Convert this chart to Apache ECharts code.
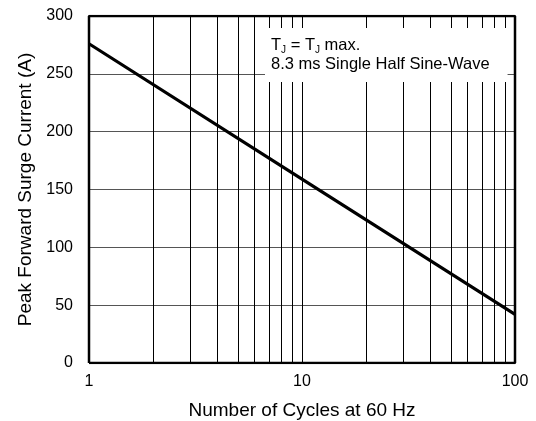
<!DOCTYPE html>
<html>
<head>
<meta charset="utf-8">
<script src="https://cdn.jsdelivr.net/npm/echarts@6/dist/echarts.min.js"></script>
<style>
  html,body{margin:0;padding:0;background:#fff;}
  #chart{width:536px;height:421px;}
</style>
</head>
<body>
<div id="chart"></div>
<script>
// surge current vs number of cycles
var cycles=[1,10,100];
var current=[276,159,42];
// minor vertical grid lines on the log axis
var minorX=[2,3,4,5,6,7,8,9,20,30,40,50,60,70,80,90];

window.onload=()=>{
    var myChart=echarts.init(document.getElementById('chart'));
    var font='"Liberation Sans", Arial, sans-serif';
    var pts=[];
    for(let i=0;i<cycles.length;i++){
        pts.push([cycles[i],current[i]]);
    }
    var option={
        animation:false,
        backgroundColor:'#fff',
        grid:{left:89,right:21,top:16,bottom:58,outerBoundsMode:'none',containLabel:false},
        title:{
            text:'T{sub|J} = T{sub|J} max.\n8.3 ms Single Half Sine-Wave',
            left:265,
            top:28,
            backgroundColor:'#fff',
            padding:[8,18,8,6],
            textStyle:{
                fontFamily:font,
                fontSize:16.5,
                fontWeight:'normal',
                color:'#000',
                lineHeight:19,
                rich:{
                    sub:{fontFamily:font,fontSize:10,color:'#000',lineHeight:19,verticalAlign:'bottom',padding:[7,0,0,0]}
                }
            }
        },
        xAxis:{
            type:'log',
            logBase:10,
            min:1,
            max:100,
            name:'Number of Cycles at 60 Hz',
            nameLocation:'middle',
            nameGap:38,
            nameTextStyle:{fontFamily:font,fontSize:19,color:'#000'},
            axisLine:{show:false},
            axisTick:{show:false},
            axisLabel:{fontFamily:font,fontSize:16,color:'#000',margin:11},
            splitLine:{show:true,lineStyle:{color:'#000',width:1}}
        },
        yAxis:{
            type:'value',
            min:0,
            max:300,
            interval:50,
            name:'Peak Forward Surge Current (A)',
            nameLocation:'middle',
            nameGap:54,
            nameTextStyle:{fontFamily:font,fontSize:19,color:'#000'},
            axisLine:{show:false},
            axisTick:{show:false},
            axisLabel:{fontFamily:font,fontSize:16,color:'#000',margin:16},
            splitLine:{show:true,lineStyle:{color:'#555',width:1}}
        },
        series:[{
            type:'line',
            data:pts,
            symbol:'none',
            z:5,
            lineStyle:{color:'#000',width:3.2},
            markLine:{
                silent:true,
                symbol:'none',
                label:{show:false},
                lineStyle:{color:'#000',width:1,type:'solid'},
                data:minorX.map(v=>({xAxis:v}))
            }
        },{
            // plot frame
            type:'line',
            data:[[1,0],[100,0],[100,300],[1,300],[1,0]],
            symbol:'none',
            z:6,
            lineStyle:{color:'#000',width:2.5}
        }]
    };
    myChart.setOption(option);
}
</script>
</body>
</html>
